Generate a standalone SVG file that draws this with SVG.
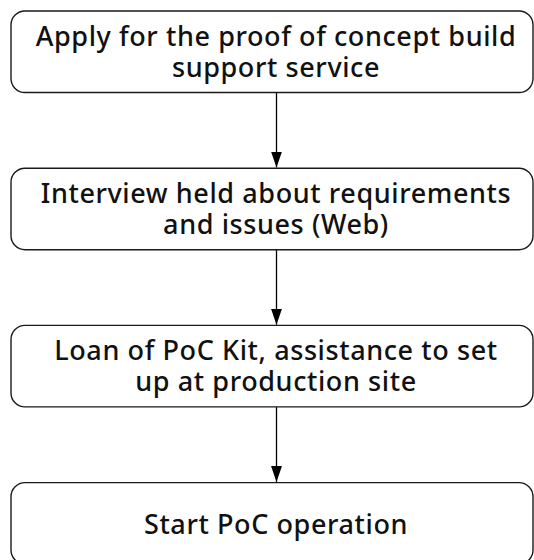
<svg xmlns="http://www.w3.org/2000/svg" width="534" height="560" viewBox="0 0 534 560">
<defs>
<marker id="ah" markerWidth="16" markerHeight="11" refX="16" refY="5.5" orient="auto" markerUnits="userSpaceOnUse" viewBox="0 0 16 11">
<path d="M0,0 L16,5.5 L0,11 Z" fill="#000"/>
</marker>
<style>
.box{fill:#fff;stroke:#1a1a1a;stroke-width:1.4}
.t{font-family:"Noto Sans","Open Sans",sans-serif;font-size:27px;font-weight:500;letter-spacing:0.6px;fill:#111;text-anchor:middle}
.c{stroke:#000;stroke-width:1.3;fill:none}
</style>
</defs>
<rect width="534" height="560" fill="#fff"/>
<g id="connectors">
<line class="c" x1="276.5" y1="92.5" x2="276.5" y2="167.5" marker-end="url(#ah)"/>
<line class="c" x1="276.5" y1="249.7" x2="276.5" y2="324.7" marker-end="url(#ah)"/>
<line class="c" x1="276.5" y1="406.9" x2="276.5" y2="481.9" marker-end="url(#ah)"/>
</g>
<g id="n1">
<rect class="box" x="11" y="11" width="522" height="81.5" rx="14"/>
<text class="t"><tspan x="276" y="46">Apply for the proof of concept build</tspan><tspan x="276" y="77">support service</tspan></text>
</g>
<g id="n2">
<rect class="box" x="11" y="168.2" width="522" height="81.5" rx="14"/>
<text class="t"><tspan x="276" y="203.2">Interview held about requirements</tspan><tspan x="276" y="234.2">and issues (Web)</tspan></text>
</g>
<g id="n3">
<rect class="box" x="11" y="325.4" width="522" height="81.5" rx="14"/>
<text class="t"><tspan x="276" y="360.4">Loan of PoC Kit, assistance to set</tspan><tspan x="276" y="391.4">up at production site</tspan></text>
</g>
<g id="n4">
<rect class="box" x="11" y="482.6" width="522" height="81.5" rx="14"/>
<text class="t" x="276" y="534">Start PoC operation</text>
</g>
</svg>
